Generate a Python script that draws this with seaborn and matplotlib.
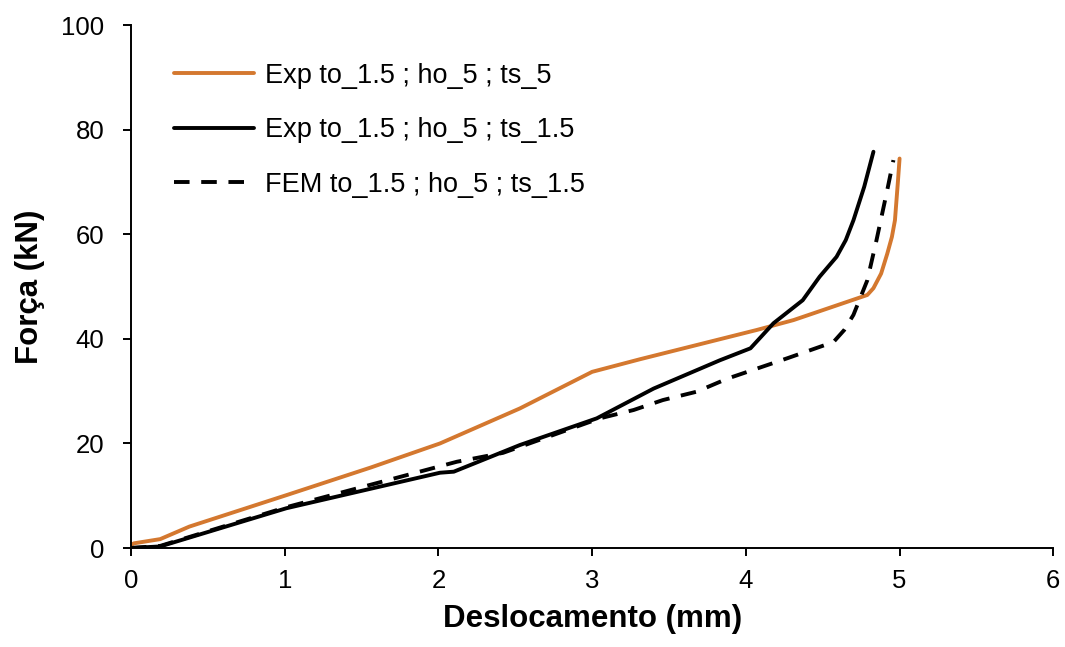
import numpy as np
import pandas as pd
import seaborn as sns
import matplotlib.pyplot as plt

sns.set_style("ticks")
plt.rcParams["font.family"] = ["Liberation Sans", "DejaVu Sans"]

# Exp to_1.5 ; ho_5 ; ts_5 (orange)
exp5_x = [0.0, 0.02, 0.19, 0.38, 1.01, 1.56, 2.01, 2.53, 3.0, 3.31, 4.07, 4.31, 4.79, 4.83, 4.88, 4.92, 4.95, 4.97, 4.99, 5.0]
exp5_y = [0.6, 0.9, 1.7, 4.1, 10.1, 15.4, 20.0, 26.7, 33.7, 36.1, 41.7, 43.6, 48.4, 49.7, 52.5, 56.3, 59.5, 62.7, 70.4, 74.5]

# Exp to_1.5 ; ho_5 ; ts_1.5 (black solid)
exp15_x = [0.0, 0.19, 1.01, 2.01, 2.10, 2.53, 3.03, 3.40, 3.83, 4.03, 4.18, 4.37, 4.48, 4.59, 4.65, 4.70, 4.77, 4.83]
exp15_y = [0.0, 0.3, 7.6, 14.4, 14.6, 19.7, 24.8, 30.5, 35.9, 38.2, 43.0, 47.4, 51.9, 55.7, 58.9, 62.7, 69.1, 75.8]

# FEM to_1.5 ; ho_5 ; ts_1.5 (black dashed)
fem_x = [0.0, 0.19, 1.01, 2.12, 2.42, 3.05, 3.27, 3.46, 3.68, 3.88, 4.27, 4.57, 4.64, 4.70, 4.79, 4.85, 4.92, 4.96]
fem_y = [0.0, 0.4, 7.8, 16.5, 18.2, 24.8, 26.4, 28.3, 29.9, 32.4, 36.3, 39.4, 41.7, 44.6, 51.2, 58.9, 68.5, 74.2]

labels = ["Exp to_1.5 ; ho_5 ; ts_5", "Exp to_1.5 ; ho_5 ; ts_1.5", "FEM to_1.5 ; ho_5 ; ts_1.5"]

fig = plt.figure(figsize=(10.65, 6.47), dpi=100)
ax = fig.add_axes([0.123, 0.153, 0.866, 0.808])

lw = 2.8
sns.lineplot(x=exp5_x, y=exp5_y, ax=ax, color="#D4782F", lw=lw, sort=False, estimator=None, label=labels[0])
sns.lineplot(x=exp15_x, y=exp15_y, ax=ax, color="black", lw=lw, sort=False, estimator=None, label=labels[1])
sns.lineplot(x=fem_x, y=fem_y, ax=ax, color="black", lw=lw, sort=False, estimator=None, label=labels[2])
ax.lines[2].set_dashes((4, 3))

ax.set_xlim(0, 6)
ax.set_ylim(0, 100)
ax.set_xticks(range(0, 7))
ax.set_yticks(range(0, 101, 20))
ax.tick_params(labelsize=18.5, length=6, width=1.4, color="black", labelcolor="black")
ax.tick_params(axis="x", pad=9)
ax.tick_params(axis="y", pad=13)
for s in ["left", "bottom"]:
    ax.spines[s].set_linewidth(1.4)
    ax.spines[s].set_color("black")
sns.despine(ax=ax)

ax.set_xlabel("Deslocamento (mm)", fontsize=22.5, fontweight="bold", labelpad=8, color="black")
ax.set_ylabel("Força (kN)", fontsize=22.5, fontweight="bold", labelpad=12, color="black")

leg = ax.legend(loc="upper left", bbox_to_anchor=(0.02, 0.975), frameon=False, fontsize=19.5,
                handlelength=2.95, handletextpad=0.4, labelspacing=1.05)
for t in leg.get_texts():
    t.set_color("black")

fig.savefig("out.png", dpi=100)
